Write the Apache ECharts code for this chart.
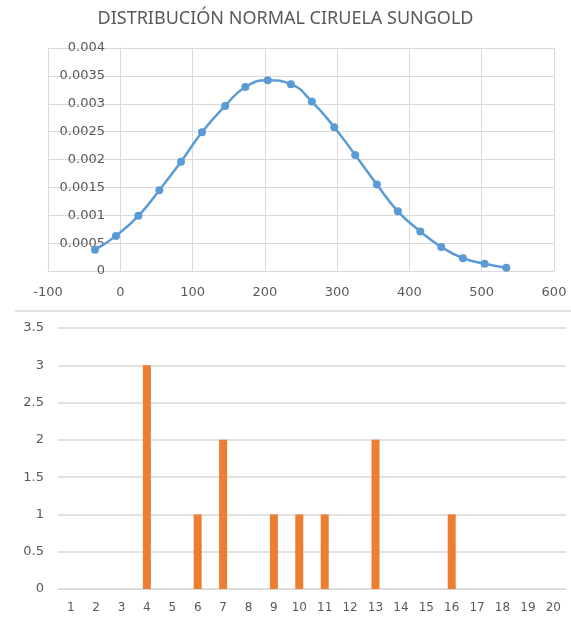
<!DOCTYPE html>
<html>
<head>
<meta charset="utf-8">
<script src="https://cdn.jsdelivr.net/npm/echarts@6/dist/echarts.min.js"></script>
<style>
	html, body { margin: 0; padding: 0; background: #fff; }
	#chart { width: 571px; height: 619px; }
</style>
</head>
<body>
<div id="chart"></div>
<script>
// curva normal (x, densidad)
var normalX = [-35, -6, 25, 54, 84, 113, 145, 173, 204, 236, 265, 296, 325, 355, 384, 415, 444, 474, 504, 534];
var normalY = [0.00038, 0.00063, 0.00099, 0.00145, 0.00196, 0.00249, 0.00296, 0.00330, 0.00342, 0.00335,
	0.00304, 0.00258, 0.00208, 0.00155, 0.00107, 0.00071, 0.00043, 0.00023, 0.00013, 0.00006];

// frecuencias
var freqCategories = ['1', '2', '3', '4', '5', '6', '7', '8', '9', '10', '11', '12', '13', '14', '15', '16', '17', '18', '19', '20'];
var freqValues = [0, 0, 0, 3, 0, 1, 2, 0, 1, 1, 1, 0, 2, 0, 0, 1, 0, 0, 0, 0];

var textColor = '#595959';
var gridColor = '#d9d9d9';
var font = 'DejaVu Sans';

var linePoints = normalX.map(function(x, i) { return [x, normalY[i]]; });

var option = {
	backgroundColor : '#fff',
	animation : false,
	title : {
		text : 'DISTRIBUCIÓN NORMAL CIRUELA SUNGOLD',
		left : 'center',
		top : 5,
		textStyle : {
			color : textColor,
			fontFamily : 'Noto Sans',
			fontSize : 18,
			fontWeight : 'normal'
		}
	},
	graphic : [ {
		type : 'line',
		shape : { x1 : 15, y1 : 311, x2 : 571, y2 : 311 },
		style : { stroke : gridColor, lineWidth : 1.5 }
	} ],
	grid : [ {
		left : 48, right : 17, top : 48, height : 223, outerBoundsMode : 'none'
	}, {
		left : 58, right : 5, top : 328, height : 261, outerBoundsMode : 'none'
	} ],
	xAxis : [ {
		gridIndex : 0,
		type : 'value',
		min : -100,
		max : 600,
		interval : 100,
		axisLine : { lineStyle : { color : gridColor } },
		axisTick : { show : false },
		axisLabel : { color : textColor, fontFamily : font, fontSize : 13, margin : 15 },
		splitLine : { show : true, lineStyle : { color : gridColor } }
	}, {
		gridIndex : 1,
		type : 'category',
		data : freqCategories,
		axisLine : { lineStyle : { color : gridColor } },
		axisTick : { show : false },
		axisLabel : { color : textColor, fontFamily : font, fontSize : 12, margin : 13 }
	} ],
	yAxis : [ {
		gridIndex : 0,
		type : 'value',
		min : 0,
		max : 0.004,
		interval : 0.0005,
		offset : -72,
		axisLine : { show : true, lineStyle : { color : gridColor } },
		axisTick : { show : false },
		axisLabel : { color : textColor, fontFamily : font, fontSize : 13, margin : 15 },
		splitLine : { show : true, lineStyle : { color : gridColor } }
	}, {
		gridIndex : 1,
		type : 'value',
		min : 0,
		max : 3.5,
		interval : 0.5,
		axisLine : { show : false },
		axisTick : { show : false },
		axisLabel : { color : textColor, fontFamily : font, fontSize : 13, margin : 14 },
		splitLine : { show : true, lineStyle : { color : gridColor, width : 1.5 } }
	} ],
	series : [ {
		type : 'line',
		xAxisIndex : 0,
		yAxisIndex : 0,
		data : linePoints,
		smooth : true,
		symbol : 'circle',
		symbolSize : 8,
		itemStyle : { color : '#5B9BD5' },
		lineStyle : { color : '#5B9BD5', width : 2.5 }
	}, {
		type : 'bar',
		xAxisIndex : 1,
		yAxisIndex : 1,
		data : freqValues,
		barWidth : 8,
		itemStyle : { color : '#ED7D31' }
	} ]
};

var chart = echarts.init(document.getElementById('chart'));
chart.setOption(option);
</script>
</body>
</html>
